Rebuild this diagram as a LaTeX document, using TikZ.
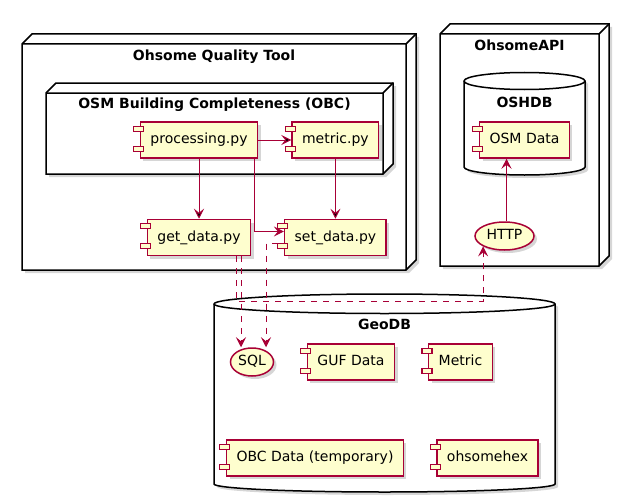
\documentclass[tikz,border=0pt]{standalone}
\usepackage{fontspec}
\setmainfont{DejaVu Sans}
\usepackage{tikz}
\usetikzlibrary{arrows.meta, shapes, shadows, positioning}
\definecolor{umlfill}{HTML}{FEFECE}
\definecolor{umlred}{HTML}{A80036}

\begin{document}
\begin{tikzpicture}[x=1pt,y=-1pt,font=\fontsize{14}{16}\selectfont,->,>={Stealth[length=10pt,width=10pt,inset=4pt]},line width=1pt]

	\tikzset{node shade/.style={drop shadow={shadow xshift=3pt,shadow yshift=-3pt,
				fill=black!45,opacity=.35}}}
	\tikzset{node comp/.style={rectangle, draw=umlred, line width=1.5pt,
			fill=umlfill, node shade, minimum height=36pt,
			inner xsep=10pt, inner ysep=0pt, text height=10pt, text depth=3pt}}
	\tikzset{node if/.style={ellipse, draw=umlred, line width=1.5pt,
			fill=umlfill, node shade, minimum height=28pt, inner sep=0pt,
			text height=10pt, text depth=3pt}}
	\tikzset{node tab/.style={-, draw=umlred, line width=1.2pt, fill=umlfill}}
	\tikzset{box/.style={-, draw=black, line width=1.5pt, fill=white}}
	\tikzset{box line/.style={-, draw=black, line width=1.5pt}}
	\tikzset{box title/.style={font=\fontsize{14}{16}\selectfont\bfseries, anchor=base}}
	\tikzset{link/.style={draw=umlred, line width=1pt}}
	\tikzset{link dash/.style={link, dash pattern=on 6pt off 6pt}}

	\useasboundingbox[fill=white] (0,0) rectangle (629,503);

	% nodes (3d boxes)
	\foreach \xa/\ya/\xb/\yb in {22/44/406/270, 46/93/383/174, 440/34/599/266}{
		\draw[box, node shade] (\xa,\ya) -- (\xa+10,\ya-10) -- (\xb+10,\ya-10)
		-- (\xb+10,\yb-10) -- (\xb,\yb) -- (\xa,\yb) -- cycle;
		\draw[box line] (\xa,\ya) -- (\xb,\ya) -- (\xb,\yb) (\xb,\ya) -- (\xb+10,\ya-10);
	}
	\node[box title] (oqtT) at (214,60) {Ohsome Quality Tool};
	\node[box title] (obcT) at (214.5,108) {OSM Building Completeness (OBC)};
	\node[box title] (apiT) at (519.5,51) {OhsomeAPI};

	% databases
	\draw[box, node shade] (464,81) -- (464,167) arc[start angle=180, end angle=0, x radius=60.5, y radius=8]
	-- (585,81) arc[start angle=0, end angle=-180, x radius=60.5, y radius=8.5] -- cycle;
	\draw[box line] (464,81) arc[start angle=180, end angle=0, x radius=60.5, y radius=8.5];
	\node[box title] (oshdbT) at (524.5,107) {OSHDB};

	\draw[box, node shade] (214,304) -- (214,484) arc[start angle=180, end angle=0, x radius=170.5, y radius=8]
	-- (555,304) arc[start angle=0, end angle=-180, x radius=170.5, y radius=10] -- cycle;
	\draw[box line] (214,304) arc[start angle=180, end angle=0, x radius=170.5, y radius=9.5];
	\node[box title] (geoT) at (384.5,329) {GeoDB};

	% components
	\node[node comp] (proc) at (199,140) {processing.py};
	\node[node comp, right=33pt of proc] (metric) {metric.py};
	\node[node comp, below=60pt of proc] (get) {get\_data.py};
	\node[node comp, below=60pt of metric] (set) {set\_data.py};
	\node[node comp] (osm) at (524.5,140) {OSM Data};
	\node[node if, minimum width=59pt] (http) at (504.5,236) {HTTP};
	\node[node if, minimum width=43pt] (sql) at (252,362) {SQL};
	\node[node comp] (guf) at (351,362) {GUF Data};
	\node[node comp] (met) at (460.5,362) {Metric};
	\node[node comp] (obcd) at (315,458) {OBC Data (temporary)};
	\node[node comp] (hex) at (487.5,458) {ohsomehex};

	\foreach \c in {proc,metric,get,set,osm,guf,met,obcd,hex}{
		\draw[node tab] ([xshift=-6pt,yshift=-5pt]\c.north west) rectangle ++(10pt,-5pt);
		\draw[node tab] ([xshift=-6pt,yshift=-25pt]\c.north west) rectangle ++(10pt,-5pt);
	}

	% connectors
	\draw[link]
	(proc) edge (metric)
	(proc) edge (get)
	(metric) edge (set);
	\draw[link] ([xshift=-4pt]proc.south east) |- ([yshift=6pt]set.west);
	\draw[link] ([xshift=2pt]http.north) -- ([xshift=2pt]http.north |- osm.south);

	\draw[link dash] ([xshift=37pt]get.south) -- ++(0,45) -| (http.south west);
	\draw[link dash] ([xshift=42pt]get.south) -- ([xshift=-11pt]sql.north);
	\draw[link dash] ([xshift=-6pt,yshift=-6pt]set.west) -| ([xshift=14pt]sql.north);
\end{tikzpicture}
\end{document}
